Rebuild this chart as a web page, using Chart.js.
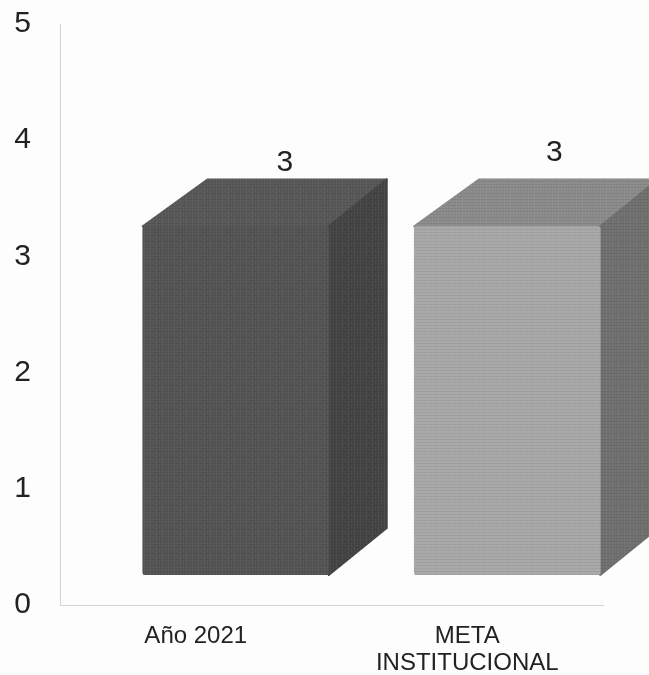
<!DOCTYPE html>
<html>
<head>
<meta charset="utf-8">
<style>
  html, body { margin: 0; padding: 0; background: #fdfdfd; }
  canvas { display: block; filter: blur(0.6px); }
</style>
<script src="https://cdn.jsdelivr.net/npm/chart.js@4"></script>
</head>
<body>
<canvas id="chart" width="649" height="675"></canvas>
<script>
const categories = ["Año 2021", ["META", "INSTITUCIONAL"]];
const values = [3, 3];
const yTicks = [0, 1, 2, 3, 4, 5];

// shades per bar
const frontColors = ["#545454", "#a8a8a8"];
const topColors = ["#585858", "#8b8b8b"];
const sideColors = ["#444444", "#707070"];

// the bars sit on a raised floor, like the old 3D office charts
const shiftX = 40;
const shiftY = -30;
const backLeft = 65;
const depthX = 58;
const depthY = 47;
const labelRight = [49, 47];
const labelLift = [64, 74];

// scan grain, fixed 6x6 tile
function grain(color) {
  const tile = document.createElement("canvas");
  tile.width = 6;
  tile.height = 6;
  const c = tile.getContext("2d");
  c.fillStyle = color;
  c.fillRect(0, 0, 6, 6);
  c.fillStyle = "rgba(0,0,0,0.06)";
  c.fillRect(0, 1, 6, 1);
  c.fillRect(0, 4, 6, 1);
  c.fillStyle = "rgba(255,255,255,0.05)";
  c.fillRect(2, 0, 1, 6);
  c.fillRect(5, 3, 1, 3);
  return c.createPattern(tile, "repeat");
}

function poly(ctx, pts, fill) {
  ctx.beginPath();
  pts.forEach((p, i) => (i ? ctx.lineTo(p[0], p[1]) : ctx.moveTo(p[0], p[1])));
  ctx.closePath();
  ctx.fillStyle = fill;
  ctx.strokeStyle = fill;
  ctx.lineWidth = 2;
  ctx.lineJoin = "round";
  ctx.fill();
  ctx.stroke();
}

const box3d = {
  id: "box3d",
  beforeDatasetsDraw(chart) {
    const ctx = chart.ctx;
    ctx.save();
    ctx.translate(shiftX, shiftY);
    chart.getDatasetMeta(0).data.forEach((bar, i) => {
      const left = bar.x - bar.width / 2;
      const right = bar.x + bar.width / 2;
      const top = bar.y;
      const bottom = bar.base;
      poly(ctx, [[left, top], [left + backLeft, top - depthY], [right + depthX, top - depthY], [right, top]], grain(topColors[i]));
      poly(ctx, [[right, top], [right + depthX, top - depthY], [right + depthX, bottom - depthY], [right, bottom]], grain(sideColors[i]));
    });
  },
  afterDatasetsDraw(chart) {
    const ctx = chart.ctx;
    ctx.fillStyle = "#222222";
    ctx.font = "30px 'Liberation Sans'";
    ctx.textAlign = "center";
    ctx.textBaseline = "middle";
    chart.getDatasetMeta(0).data.forEach((bar, i) => {
      ctx.fillText(String(values[i]), bar.x + labelRight[i], bar.y - labelLift[i]);
    });
    ctx.restore();
  }
};

new Chart(document.getElementById("chart"), {
  type: "bar",
  data: {
    labels: categories,
    datasets: [{
      data: values,
      backgroundColor: frontColors.map(grain),
      borderRadius: 3,
      borderSkipped: false,
      barThickness: 186
    }]
  },
  options: {
    responsive: false,
    animation: false,
    layout: { padding: { top: 24, right: 46, left: 0, bottom: 0 } },
    plugins: {
      legend: { display: false },
      tooltip: { enabled: false }
    },
    scales: {
      x: {
        grid: { display: false, drawTicks: false },
        border: { color: "#d4d4d4", width: 1 },
        afterFit(scale) { scale.height = 70; },
        ticks: {
          color: "#222222",
          padding: 18,
          maxRotation: 0,
          autoSkip: false,
          font: { family: "'Liberation Sans'", size: 24, lineHeight: 1.12 }
        }
      },
      y: {
        min: yTicks[0],
        max: yTicks[yTicks.length - 1],
        grid: { display: false, drawTicks: false },
        border: { color: "#d4d4d4", width: 1 },
        afterFit(scale) {
          scale.width = 60;
          // tick padding would otherwise push the plot top down
          scale.paddingTop = 0;
          scale.paddingBottom = 0;
        },
        ticks: {
          stepSize: 1,
          color: "#222222",
          padding: 29,
          font: { family: "'Liberation Sans'", size: 30 }
        }
      }
    }
  },
  plugins: [box3d]
});
</script>
</body>
</html>
